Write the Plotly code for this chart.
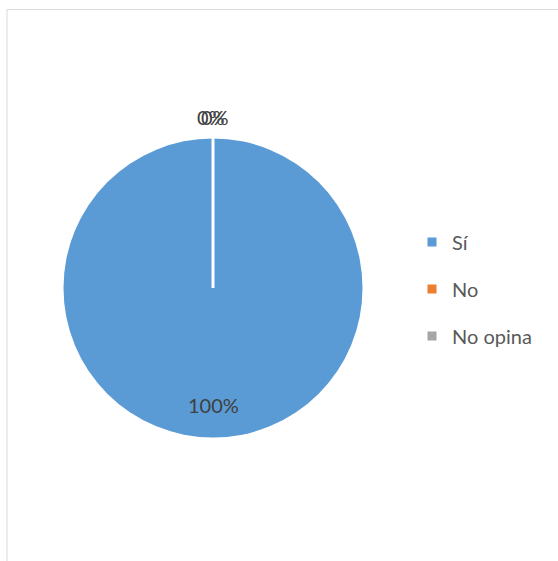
import math
import plotly.graph_objects as go

categories = ["Sí", "No", "No opina"]
values = [100, 0, 0]
colors = ["#5B9BD5", "#ED7D31", "#A5A5A5"]

W, H = 558, 561
cx, cy, r = 213, 288, 149.5  # pie geometry in pixels

def px(x):
    return x / W

def py(y):
    return 1 - y / H

FONT = "Lato, Open Sans, sans-serif"

fig = go.Figure()
fig.add_trace(go.Pie(
    labels=categories, values=values, sort=False, direction="clockwise", rotation=0,
    marker=dict(colors=colors, line=dict(color="white", width=0)),
    textinfo="none", hoverinfo="label+percent", showlegend=False,
    domain=dict(x=[px(cx - r), px(cx + r)], y=[py(cy + r), py(cy - r)]),
))

# legend entries
for i, (name, c) in enumerate(zip(categories, colors)):
    fig.add_trace(go.Scatter(
        x=[None], y=[None], mode="markers", name=name,
        marker=dict(symbol="square", size=9, color=c),
        legendgroup=name, showlegend=True,
    ))

# data labels
total = sum(values)
cum = 0
annotations = []
for i, v in enumerate(values):
    theta = math.radians((cum + v / 2) / total * 360)
    cum += v
    pct = round(v / total * 100)
    rl = 0.78 * r if v > 0 else 1.145 * r
    lx = cx + rl * math.sin(theta) + (0 if v > 0 else (i - 1.5) * 4)
    ly = cy - rl * math.cos(theta)
    annotations.append(dict(
        x=px(lx), y=py(ly), xref="paper", yref="paper", text=f"{pct}%",
        showarrow=False, xanchor="center", yanchor="middle",
        font=dict(size=20, color="#404040", family=FONT),
    ))

shapes = [
    # separator between Sí and zero slices (slice boundary at top)
    dict(type="line", xref="paper", yref="paper", x0=px(cx), y0=py(cy), x1=px(cx), y1=py(cy - r - 1),
         line=dict(color="white", width=3)),
    # chart border
    dict(type="line", xref="paper", yref="paper", x0=px(7), y0=0, x1=px(7), y1=py(9.5),
         line=dict(color="#D9D9D9", width=1)),
    dict(type="line", xref="paper", yref="paper", x0=px(7), y0=py(9.5), x1=1, y1=py(9.5),
         line=dict(color="#D9D9D9", width=1)),
]

fig.update_layout(
    width=W, height=H, margin=dict(l=0, r=0, t=0, b=0),
    paper_bgcolor="white", plot_bgcolor="white",
    xaxis=dict(visible=False), yaxis=dict(visible=False),
    annotations=annotations, shapes=shapes,
    legend=dict(x=px(412), y=py(289), xanchor="left", yanchor="middle",
                font=dict(size=20, color="#595959", family=FONT),
                tracegroupgap=18, itemclick=False, bgcolor="rgba(0,0,0,0)"),
    font=dict(family=FONT),
)

fig.write_html("out.html", config={"displayModeBar": False},
               post_script="document.body.style.margin='0';")
